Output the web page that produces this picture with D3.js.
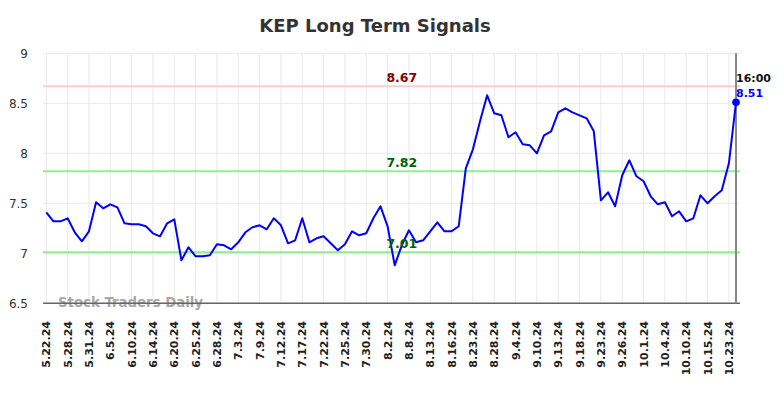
<!DOCTYPE html>
<html>
<head>
<meta charset="utf-8">
<script src="https://cdn.jsdelivr.net/npm/d3@7"></script>
<style>
  body { margin: 0; background: #fff; }
  svg { display: block; font-family: "DejaVu Sans", sans-serif; }
</style>
</head>
<body>
<svg id="chart" width="784" height="398"></svg>
<script>
// tick labels, one every third trading day
const tickLabels = ["5.22.24", "5.28.24", "5.31.24", "6.5.24", "6.10.24", "6.14.24", "6.20.24",
  "6.25.24", "6.28.24", "7.3.24", "7.9.24", "7.12.24", "7.17.24", "7.22.24", "7.25.24",
  "7.30.24", "8.2.24", "8.8.24", "8.13.24", "8.16.24", "8.23.24", "8.28.24", "9.4.24",
  "9.10.24", "9.13.24", "9.18.24", "9.23.24", "9.26.24", "10.1.24", "10.4.24", "10.10.24",
  "10.15.24", "10.23.24"];
const tickEvery = 3;

// closing prices
const prices = [7.41, 7.32, 7.32, 7.35, 7.21, 7.12, 7.22, 7.51, 7.45, 7.49,
  7.46, 7.30, 7.29, 7.29, 7.27, 7.20, 7.17, 7.30, 7.34, 6.93,
  7.06, 6.97, 6.97, 6.98, 7.09, 7.08, 7.04, 7.11, 7.21, 7.26,
  7.28, 7.24, 7.35, 7.28, 7.10, 7.13, 7.35, 7.11, 7.15, 7.17,
  7.10, 7.03, 7.09, 7.22, 7.18, 7.20, 7.35, 7.47, 7.27, 6.88,
  7.08, 7.23, 7.11, 7.13, 7.22, 7.31, 7.22, 7.22, 7.27, 7.85,
  8.04, 8.32, 8.58, 8.40, 8.38, 8.16, 8.21, 8.09, 8.08, 8.00,
  8.18, 8.22, 8.41, 8.45, 8.41, 8.38, 8.35, 8.22, 7.53, 7.61,
  7.47, 7.78, 7.93, 7.77, 7.72, 7.57, 7.49, 7.51, 7.37, 7.42,
  7.32, 7.35, 7.58, 7.50, 7.57, 7.63, 7.90, 8.51];

// signal levels
const levelValues = [8.67, 7.82, 7.01];
const levelKinds = ["resistance", "support", "support"];

const yTicks = [6.5, 7, 7.5, 8, 8.5, 9];
const lastTime = "16:00";

const svg = d3.select("#chart");

const plotLeft = 43, plotRight = 740, plotTop = 53.3, plotBottom = 303.3;

const x = d3.scaleLinear()
  .domain([0, prices.length - 1])
  .range([46.3, 736]);

const y = d3.scaleLinear()
  .domain([6.5, 9])
  .range([plotBottom, plotTop]);

// title
svg.append("text")
  .attr("x", 375)
  .attr("y", 32)
  .attr("text-anchor", "middle")
  .attr("font-size", "18px")
  .attr("font-weight", "bold")
  .attr("fill", "#333")
  .text("KEP Long Term Signals");

const g = svg.append("g");

// horizontal grid
g.selectAll(".hgrid")
  .data(yTicks)
  .join("line")
  .attr("x1", plotLeft)
  .attr("x2", plotRight)
  .attr("y1", d => y(d))
  .attr("y2", d => y(d))
  .attr("stroke", "#e8e8e8")
  .attr("stroke-width", 1);

// vertical grid at each tick label
const tickIdx = tickLabels.map((d, i) => i * tickEvery);
g.selectAll(".vgrid")
  .data(tickIdx)
  .join("line")
  .attr("x1", d => x(d))
  .attr("x2", d => x(d))
  .attr("y1", plotTop)
  .attr("y2", plotBottom)
  .attr("stroke", "#e8e8e8")
  .attr("stroke-width", 1);

// y labels
g.selectAll(".ylab")
  .data(yTicks)
  .join("text")
  .attr("x", 28)
  .attr("y", d => y(d))
  .attr("dy", "0.36em")
  .attr("text-anchor", "end")
  .attr("font-size", "12px")
  .attr("fill", "#333")
  .text(d => d);

// x labels, rotated
g.selectAll(".xlab")
  .data(tickLabels)
  .join("text")
  .attr("transform", (d, i) => `translate(${x(i * tickEvery) + 4},321) rotate(-90)`)
  .attr("text-anchor", "end")
  .attr("font-size", "11px")
  .attr("font-weight", "bold")
  .attr("fill", "#222")
  .text(d => d);

// signal level lines
levelValues.forEach((v, i) => {
  g.append("line")
    .attr("x1", plotLeft)
    .attr("x2", plotRight)
    .attr("y1", y(v))
    .attr("y2", y(v))
    .attr("stroke", levelKinds[i] === "resistance" ? "#ffcccc" : "#90ee90")
    .attr("stroke-width", 2);
});

// watermark
g.append("text")
  .attr("x", 58)
  .attr("y", 307)
  .attr("font-size", "13.3px")
  .attr("font-weight", "bold")
  .attr("fill", "#999")
  .attr("opacity", 0.85)
  .text("Stock Traders Daily");

// bottom axis line
g.append("line")
  .attr("x1", plotLeft)
  .attr("x2", plotRight)
  .attr("y1", plotBottom)
  .attr("y2", plotBottom)
  .attr("stroke", "#666")
  .attr("stroke-width", 1.5);

// current time marker
const lastI = prices.length - 1;
g.append("line")
  .attr("x1", x(lastI))
  .attr("x2", x(lastI))
  .attr("y1", plotTop)
  .attr("y2", plotBottom)
  .attr("stroke", "#888")
  .attr("stroke-width", 2);

// price line
const line = d3.line()
  .x((d, i) => x(i))
  .y(d => y(d));

g.append("path")
  .datum(prices)
  .attr("d", line)
  .attr("fill", "none")
  .attr("stroke", "blue")
  .attr("stroke-width", 2)
  .attr("stroke-linejoin", "round");

g.append("circle")
  .attr("cx", x(lastI))
  .attr("cy", y(prices[lastI]))
  .attr("r", 3.8)
  .attr("fill", "blue");

// level labels sit on top of the price line
levelValues.forEach((v, i) => {
  g.append("text")
    .attr("x", x(50))
    .attr("y", y(v) - 4.6)
    .attr("text-anchor", "middle")
    .attr("font-size", "12.5px")
    .attr("font-weight", "bold")
    .attr("fill", levelKinds[i] === "resistance" ? "#8b0000" : "#006400")
    .text(v.toFixed(2));
});

g.append("text")
  .attr("x", x(lastI))
  .attr("y", 82)
  .attr("font-size", "11px")
  .attr("font-weight", "bold")
  .attr("fill", "#111")
  .text(lastTime);

g.append("text")
  .attr("x", x(lastI))
  .attr("y", 96.5)
  .attr("font-size", "11px")
  .attr("font-weight", "bold")
  .attr("fill", "blue")
  .text(prices[lastI].toFixed(2));
</script>
</body>
</html>
